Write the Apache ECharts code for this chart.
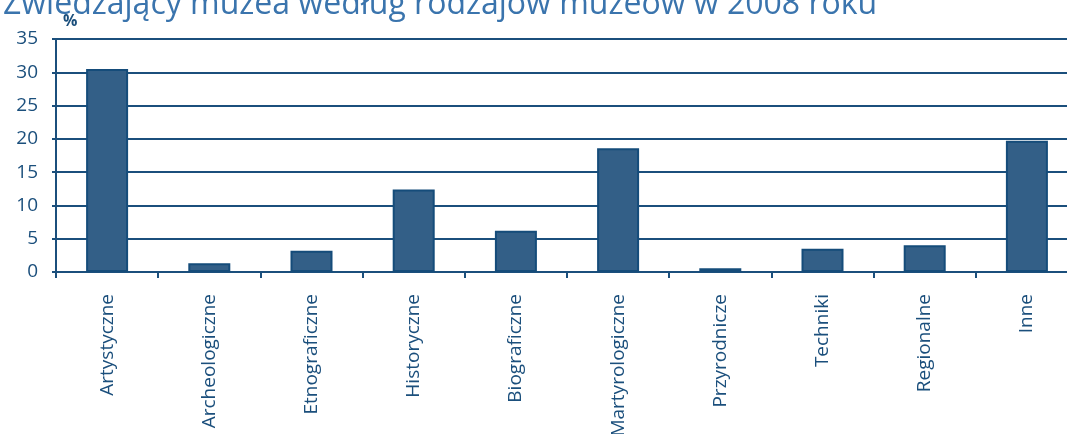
<!DOCTYPE html>
<html><head><meta charset="utf-8">
<script src="https://cdn.jsdelivr.net/npm/echarts@6/dist/echarts.min.js"></script>
<style>html,body{margin:0;padding:0;background:#fff}#c{width:1067px;height:434px}</style>
</head><body><div id="c"></div>
<script>
const titleText = 'Zwiedzający muzea według rodzajów muzeów w 2008 roku';
const categories = ['Artystyczne','Archeologiczne','Etnograficzne','Historyczne','Biograficzne','Martyrologiczne','Przyrodnicze','Techniki','Regionalne','Inne'];
const values = [30.5, 1.3, 3.2, 12.4, 6.2, 18.6, 0.55, 3.5, 4.0, 19.7];
const yTicks = [0, 5, 10, 15, 20, 25, 30, 35];
const unitLabel = '%';

const dark = '#1b4f7c';
const chart = echarts.init(document.getElementById('c'), null, {renderer:'canvas'});
chart.setOption({
  animation: false,
  textStyle: {fontFamily: 'Open Sans'},
  title: {text: titleText, left: -2, top: -16,
    textStyle: {fontFamily: 'Open Sans', fontSize: 32, fontWeight: 'normal', color: '#3a74ad'}},
  graphic: [{type:'text', left: 63, top: 13, style:{text: unitLabel, fontFamily:'Open Sans', fontSize: 16, fontWeight:'bold', fill: dark}}],
  grid: {left: 56, top: 39, height: 233, width: 1022, containLabel: false, outerBoundsMode: 'none'},
  xAxis: {type:'category', data: categories, boundaryGap: true,
    axisLine: {show:true, lineStyle:{color: dark, width: 2}},
    axisTick: {show:true, length: 6, lineStyle:{color: dark, width: 2}},
    axisLabel: {rotate: 90, margin: 22, color: dark, fontSize: 19, fontFamily:'Open Sans', interval: 0}},
  yAxis: {type:'value', min: yTicks[0], max: yTicks[yTicks.length-1], interval: 5,
    axisLine: {show:true, lineStyle:{color: dark, width: 2}},
    axisTick: {show:true, length: 4, lineStyle:{color: dark, width: 2}},
    axisLabel: {color: dark, fontSize: 19, fontFamily:'Open Sans', margin: 18},
    splitLine: {show:true, lineStyle:{color: dark, width: 2}}},
  series: [{type:'bar', data: values, barWidth: 42,
    itemStyle: {color:'#335f87', borderColor:'#154c7a', borderWidth: 2}}]
});
</script></body></html>
